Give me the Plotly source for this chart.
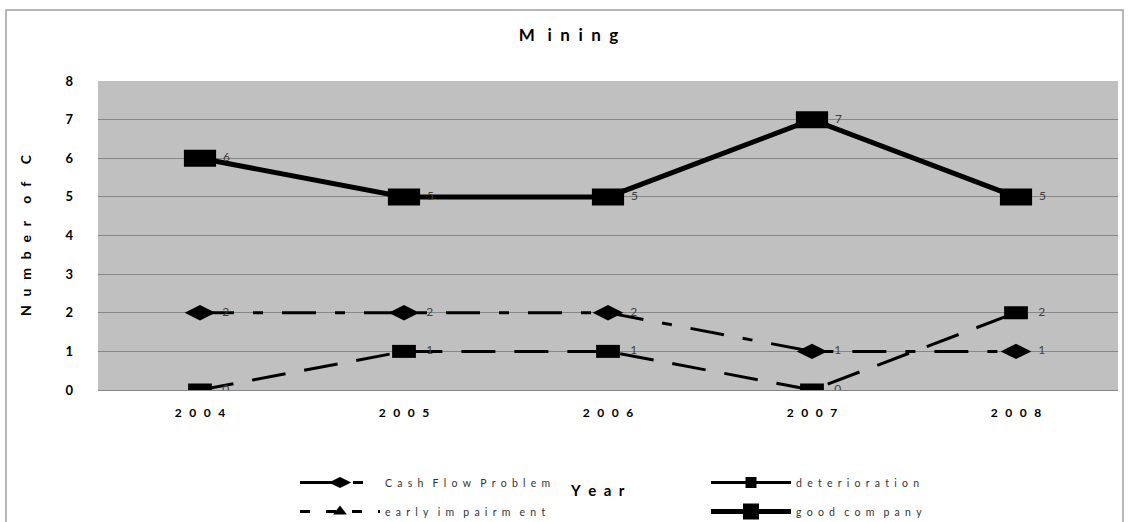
import plotly.graph_objects as go

years = ["2004", "2005", "2006", "2007", "2008"]
cash_flow_problem = [2, 2, 2, 1, 1]
deterioration = [0, 1, 1, 0, 2]
early_impairment = [None, None, None, None, None]
good_company = [6, 5, 5, 7, 5]

series_names = ["Cash Flow Problem", "deterioration", "early im pairm ent", "good com pany"]
chart_title = "M ining"
x_title = "Year"
y_title = "Number of C"

FONT = "Lato"
EN, EM, THIN, HAIR = "\u2002", "\u2003", "\u2009", "\u200a"


def spaced(s, sep, wsep):
    return wsep.join(sep.join(list(w)) for w in s.split(" "))


LEG_SEP, LEG_WSEP = EN, EM + THIN
leg_names = [spaced(n, LEG_SEP, LEG_WSEP) for n in series_names]
year_labels = [spaced(y, EN + THIN, EM) for y in years]

LBL = dict(family=FONT, size=12, color="#404040")

fig = go.Figure()

# Cash Flow Problem
fig.add_trace(go.Scatter(
    x=years, y=cash_flow_problem, mode="lines+markers+text",
    name=leg_names[0], legend="legend", legendgroup="a",
    line=dict(color="black", width=3, dash="34px,19px,10px,19px"),
    marker=dict(symbol="diamond-wide", size=22, color="black"),
    texttemplate=EN + THIN + "%{y}", textposition="middle right",
    textfont=LBL,
))
# deterioration (plot)
fig.add_trace(go.Scatter(
    x=years, y=deterioration, mode="lines+markers+text",
    name=leg_names[1], showlegend=False,
    line=dict(color="black", width=3, dash="34px,19px"),
    marker=dict(symbol="line-ew", size=17, color="black",
                line=dict(color="black", width=13)),
    texttemplate=EM + THIN + "%{y}", textposition="middle right",
    textfont=LBL,
))
# early impairment (no visible values)
fig.add_trace(go.Scatter(
    x=years, y=early_impairment, mode="lines+markers",
    name=leg_names[2], legend="legend", legendgroup="b",
    line=dict(color="black", width=3, dash="10px,16px"),
    marker=dict(symbol="triangle-up", size=12, color="black"),
))
# good company (plot)
fig.add_trace(go.Scatter(
    x=years, y=good_company, mode="lines+markers+text",
    name=leg_names[3], showlegend=False,
    line=dict(color="black", width=5),
    marker=dict(symbol="line-ew", size=23, color="black",
                line=dict(color="black", width=17)),
    texttemplate=EN + THIN + "%{y}", textposition="middle right",
    textfont=LBL,
))
# legend entries for the second legend column
fig.add_trace(go.Scatter(
    x=years, y=[None] * len(years), mode="lines+markers",
    name=leg_names[1], legend="legend2", legendgroup="c",
    line=dict(color="black", width=3),
    marker=dict(symbol="square", size=11, color="black"),
))
fig.add_trace(go.Scatter(
    x=years, y=[None] * len(years), mode="lines+markers",
    name=leg_names[3], legend="legend2", legendgroup="d",
    line=dict(color="black", width=5),
    marker=dict(symbol="square", size=16, color="black"),
))

LEG_FONT = dict(family=FONT, size=10.5, color="#333333")

fig.update_layout(
    width=1128, height=522,
    margin=dict(l=98, r=10, t=81, b=132, autoexpand=False),
    paper_bgcolor="white",
    plot_bgcolor="#C0C0C0",
    font=dict(family=FONT, color="black"),
    title=dict(text=spaced(chart_title, EN, EM), x=0.504, xanchor="center",
               xref="container", y=1 - 35 / 522, yanchor="middle",
               font=dict(family=FONT, size=17, color="black", weight="bold")),
    xaxis=dict(
        type="category", categoryorder="array", categoryarray=years,
        tickvals=years, ticktext=year_labels,
        tickfont=dict(family=FONT, size=12, color="black", weight="bold"),
        showgrid=False, ticks="", ticklabelstandoff=14,
        showline=False, zeroline=False, automargin=False,
        range=[-0.5, 4.5],
    ),
    yaxis=dict(
        range=[0, 8], dtick=1,
        tickfont=dict(family=FONT, size=13, color="black", weight="bold"),
        tickformat="d",
        showgrid=True, gridcolor="#868686", gridwidth=1,
        zeroline=True, zerolinecolor="#868686", zerolinewidth=1,
        ticks="", ticklabelstandoff=24, automargin=False,
        title=dict(text=spaced(y_title, EN + THIN, EM + EN),
                   font=dict(family=FONT, size=14, color="black", weight="bold"),
                   standoff=30),
    ),
    annotations=[dict(text=spaced(x_title, EN, EM), xref="paper", yref="paper",
                      x=(597 - 98) / 1020, y=(390 - 490) / 309,
                      xanchor="center", yanchor="middle", showarrow=False,
                      font=dict(family=FONT, size=15, color="black", weight="bold"))],
    legend=dict(x=(295 - 98) / 1020, xanchor="left", y=(390 - 468) / 309, yanchor="top",
                orientation="v", bgcolor="rgba(0,0,0,0)", font=LEG_FONT,
                tracegroupgap=10, itemwidth=80),
    legend2=dict(x=(706 - 98) / 1020, xanchor="left", y=(390 - 468) / 309, yanchor="top",
                 orientation="v", bgcolor="rgba(0,0,0,0)", font=LEG_FONT,
                 tracegroupgap=10, itemwidth=80),
    shapes=[dict(type="rect", xref="paper", yref="paper",
                 x0=(6 - 98) / 1020, x1=(1123 - 98) / 1020,
                 y0=(390 - 540) / 309, y1=(390 - 10) / 309,
                 line=dict(color="#A0A0A0", width=1.5), fillcolor="rgba(0,0,0,0)",
                 layer="below")],
)

fig.write_html("out.html",
               config={"displayModeBar": False},
               post_script="document.body.style.margin='0px';"
                           "document.body.style.overflow='hidden';")
